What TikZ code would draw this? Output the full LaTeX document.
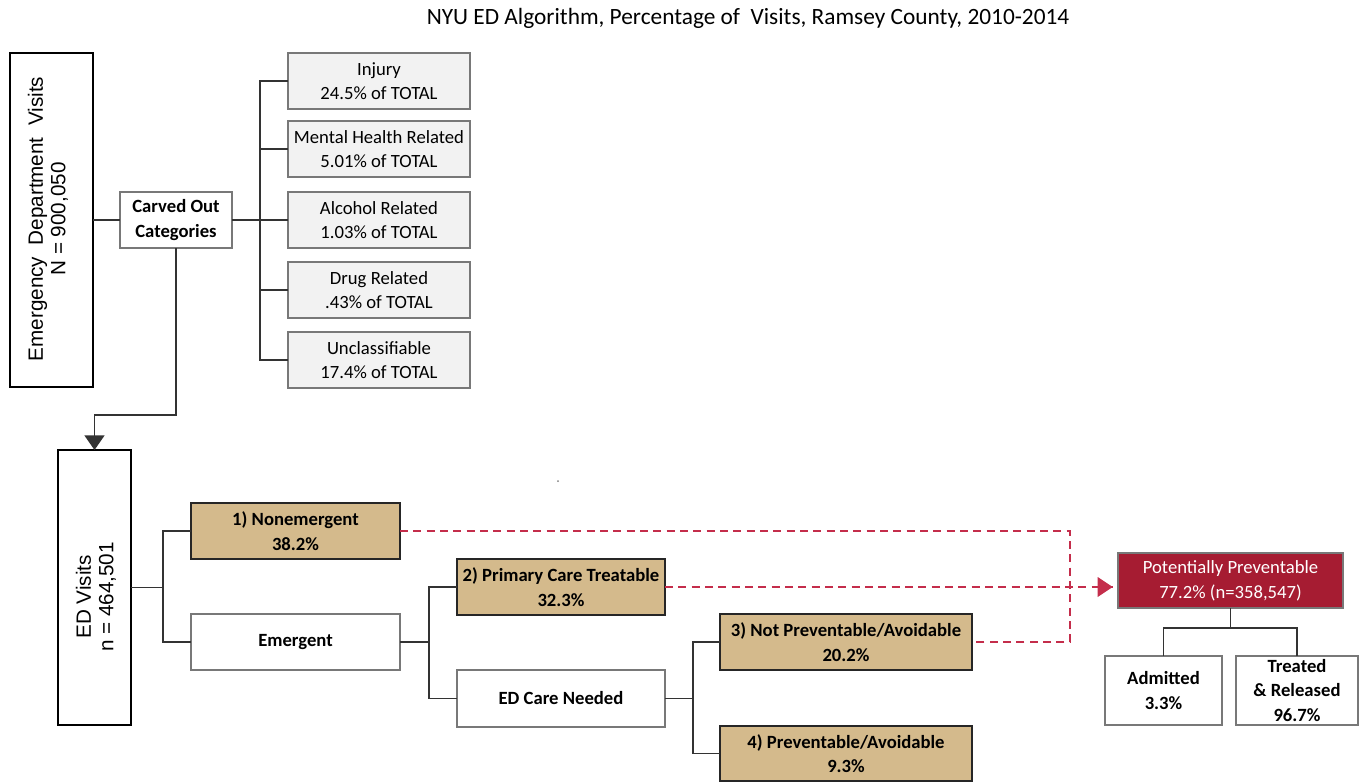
\documentclass[tikz,border=0pt]{standalone}
\usepackage{fontspec}
\setmainfont{Carlito}
\newfontfamily\arialf{Liberation Sans}
\usetikzlibrary{arrows.meta}
\definecolor{tanc}{RGB}{212,186,140}
\definecolor{crim}{RGB}{166,28,50}
\definecolor{dashredc}{RGB}{196,45,75}
\definecolor{lgray}{RGB}{242,242,242}
\definecolor{bgray}{RGB}{120,120,120}
\newcommand\bx[7]{\node[#6, minimum width={(#4-#2)*0.75}, minimum height={(#5-#3)*0.75}] (#1) at ({(#2+#4)/2},{(#3+#5)/2}) {#7};}
\begin{document}
\begin{tikzpicture}[x=0.75pt,y=-0.75pt,
  base/.style={inner sep=0pt, outer sep=0pt, align=center, font=\fontsize{14}{18.5}\selectfont, line width=1pt},
  gbox/.style={base, draw=bgray, fill=lgray},
  wbox/.style={base, draw=bgray, fill=white, font=\fontsize{14}{18.5}\selectfont\bfseries},
  tbox/.style={base, draw=black!85, fill=tanc, line width=1.4pt, font=\fontsize{14}{18.5}\selectfont\bfseries},
  kbox/.style={base, draw=black, line width=1.5pt},
  pbox/.style={base, draw=bgray, fill=crim, text=white},
  conn/.style={line width=1.2pt, draw=black!80},
  redd/.style={line width=1.5pt, draw=dashredc, dash pattern=on 6pt off 4pt},
  rtext/.style={rotate=90, align=center, inner sep=0pt, font=\arialf\fontsize{15.5}{17}\selectfont}
]
\useasboundingbox (0,0) rectangle (1360,782);
\node[font=\fontsize{17.5}{20}\selectfont] (title) at (748,18) {NYU ED Algorithm, Percentage of\ \ Visits, Ramsey County, 2010-2014};

% top section
\bx{edv}{10}{53}{93}{387}{kbox}{}
\node[rtext] (edvt) at (48,219) {Emergency\ \ Department\ \ Visits\\N = 900,050};
\bx{co}{120}{192}{232}{248}{wbox}{Carved Out\\Categories}
\bx{inj}{288}{53}{470}{109}{gbox}{Injury\\24.5\% of TOTAL}
\bx{mh}{288}{121}{470}{177}{gbox}{Mental Health Related\\5.01\% of TOTAL}
\bx{alc}{288}{192}{470}{248}{gbox}{Alcohol Related\\1.03\% of TOTAL}
\bx{drg}{288}{262}{470}{318}{gbox}{Drug Related\\.43\% of TOTAL}
\bx{unc}{288}{332}{470}{388}{gbox}{Unclassifiable\\17.4\% of TOTAL}

\coordinate (b1) at (260,0);
\draw[conn] (edv.east) -- (co.west);
\draw[conn] (co.east) -- (co.east -| b1);
\draw[conn] (inj.west) -- (inj.west -| b1) -- (unc.west -| b1) -- (unc.west);
\draw[conn] (mh.west) -- (mh.west -| b1);
\draw[conn] (alc.west) -- (alc.west -| b1);
\draw[conn] (drg.west) -- (drg.west -| b1);

% bottom section
\bx{ed}{58}{450}{131}{725}{kbox}{}
\node[rtext] (edt) at (96,597) {ED Visits\\n = 464,501};
\coordinate (k1) at (0,415);
\draw[conn, -{Triangle[length=11pt,width=15pt]}] (co.south) -- (co.south |- k1) -| (ed.north);

\bx{ne}{191}{503}{400}{559}{tbox}{1) Nonemergent\\38.2\%}
\bx{em}{191}{614}{400}{670}{wbox}{Emergent}
\bx{pc}{457}{559}{665}{615}{tbox}{2) Primary Care Treatable\\32.3\%}
\bx{ecn}{457}{670}{665}{727}{wbox}{ED Care Needed}
\bx{np}{720}{614}{972}{670}{tbox}{3) Not Preventable/Avoidable\\20.2\%}
\bx{pa}{720}{726}{972}{781}{tbox}{4) Preventable/Avoidable\\9.3\%}

\coordinate (b2) at (163,0);
\coordinate (b3) at (429,0);
\coordinate (b4) at (693,0);
\draw[conn] (ed.east) -- (ed.east -| b2);
\draw[conn] (ne.west) -- (ne.west -| b2) -- (em.west -| b2) -- (em.west);
\draw[conn] (em.east) -- (em.east -| b3);
\draw[conn] (pc.west) -- (pc.west -| b3) -- (ecn.west -| b3) -- (ecn.west);
\draw[conn] (ecn.east) -- (ecn.east -| b4);
\draw[conn] (np.west) -- (np.west -| b4) -- (pa.west -| b4) -- (pa.west);

\bx{pp}{1118}{553}{1343}{608}{pbox}{Potentially Preventable\\77.2\% (n=358,547)}
\bx{adm}{1105}{656}{1222}{725}{wbox}{Admitted\\3.3\%}
\bx{tr}{1236}{656}{1358}{725}{wbox}{Treated\\\& Released\\96.7\%}
\coordinate (k2) at (0,628);
\draw[conn] (pp.south) -- (pp.south |- k2);
\draw[conn] (adm.north) -- (adm.north |- k2) -- (tr.north |- k2) -- (tr.north);

\coordinate (dv) at (1070,0);
\draw[redd] (ne.east) -- (ne.east -| dv) -- (np.east -| dv) -- (np.east);
\draw[redd] (pc.east) -- (pc.east -| pp.west);
\fill[dashredc] ([xshift=-4pt]pc.east -| pp.west) -- ++(-15,-10) -- ++(0,20) -- cycle;

\fill[gray] (558,481) circle (1);
\end{tikzpicture}
\end{document}
